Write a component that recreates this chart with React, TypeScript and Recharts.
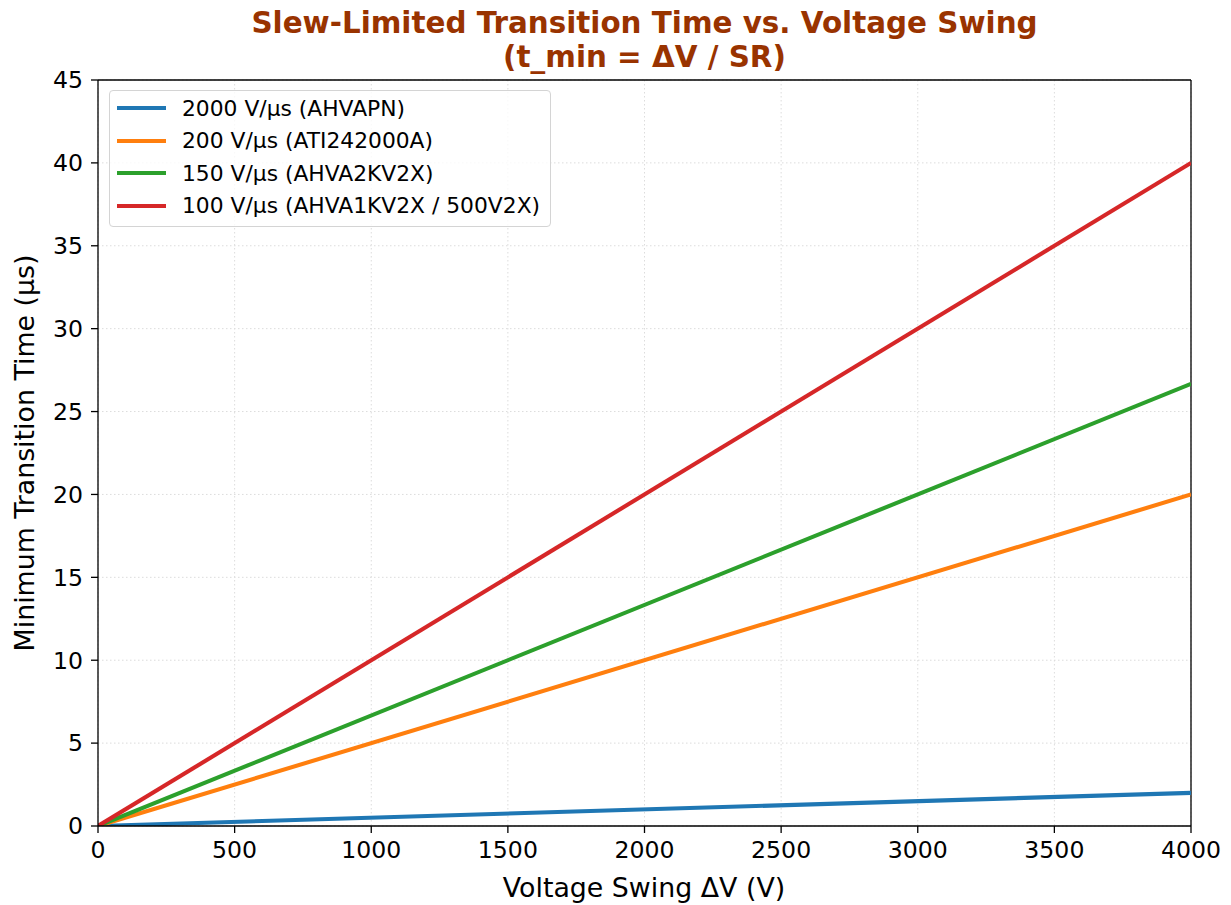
import React from "react";
import {
  LineChart,
  Line,
  XAxis,
  YAxis,
  CartesianGrid,
  ReferenceLine,
  Label,
} from "recharts";

// voltage swing (V) at each end of the lines
const voltage = [0, 4000];

// minimum transition time (µs)
const t2000 = [0, 2.0];
const t200 = [0, 20.0];
const t150 = [0, 26.67];
const t100 = [0, 40.0];

const xTicks = [0, 500, 1000, 1500, 2000, 2500, 3000, 3500, 4000];
const yTicks = [0, 5, 10, 15, 20, 25, 30, 35, 40, 45];

const series = [
  { key: "sr2000", name: "2000 V/µs (AHVAPN)", color: "#1f77b4", values: t2000 },
  { key: "sr200", name: "200 V/µs (ATI242000A)", color: "#ff7f0e", values: t200 },
  { key: "sr150", name: "150 V/µs (AHVA2KV2X)", color: "#2ca02c", values: t150 },
  { key: "sr100", name: "100 V/µs (AHVA1KV2X / 500V2X)", color: "#d62728", values: t100 },
];

const data = voltage.map((v, i) => {
  const row: Record<string, number> = { v };
  series.forEach((s) => {
    row[s.key] = s.values[i];
  });
  return row;
});

const FONT = "'DejaVu Sans', sans-serif";

function LegendBox() {
  return (
    <div
      style={{
        position: "absolute",
        left: 109,
        top: 90,
        width: 442,
        height: 137,
        boxSizing: "border-box",
        border: "1px solid #d4d4d4",
        borderRadius: 4,
        background: "rgba(255,255,255,0.8)",
        padding: "1px 0 0 7px",
        fontFamily: FONT,
        fontSize: 21.8,
        color: "#000",
      }}
    >
      {series.map((s) => (
        <div key={s.key} style={{ display: "flex", alignItems: "center", height: 32.5 }}>
          <div style={{ width: 49, height: 4, background: s.color, marginRight: 16 }} />
          <span style={{ whiteSpace: "nowrap" }}>{s.name}</span>
        </div>
      ))}
    </div>
  );
}

export default function App() {
  return (
    <div
      style={{
        position: "absolute",
        left: 0,
        top: 0,
        width: 1231,
        height: 905,
        background: "#fff",
        fontFamily: FONT,
      }}
    >
      <div
        style={{
          position: "absolute",
          left: 0,
          top: 6,
          width: 1289,
          textAlign: "center",
          fontWeight: "bold",
          fontSize: 29.4,
          lineHeight: "34px",
          color: "#993300",
        }}
      >
        Slew-Limited Transition Time vs. Voltage Swing
        <br />
        (t_min = ΔV / SR)
      </div>
      <LineChart
        width={1231}
        height={905}
        data={data}
        margin={{ top: 80, right: 40, bottom: 0, left: 0 }}
        style={{ fontFamily: FONT }}
      >
        <CartesianGrid
          stroke="#dcdcdc"
          strokeDasharray="1.5 2.5"
          strokeWidth={1}
        />
        <XAxis
          dataKey="v"
          type="number"
          domain={[0, 4000]}
          ticks={xTicks}
          height={79}
          tickSize={7}
          tickMargin={8}
          stroke="#000"
          strokeWidth={1.3}
          tick={{ fontSize: 23.6, fill: "#000" }}
          allowDataOverflow
        >
          <Label
            content={() => (
              <text x={644} y={897} textAnchor="middle" fontSize={26.8} fill="#000">
                Voltage Swing ΔV (V)
              </text>
            )}
          />
        </XAxis>
        <YAxis
          type="number"
          domain={[0, 45]}
          ticks={yTicks}
          width={98}
          tickSize={7}
          tickMargin={8}
          stroke="#000"
          strokeWidth={1.3}
          tick={{ fontSize: 23.6, fill: "#000" }}
          allowDataOverflow
        >
          <Label
            content={() => (
              <text
                x={34}
                y={453}
                textAnchor="middle"
                fontSize={26.8}
                fill="#000"
                transform="rotate(-90 34 453)"
              >
                Minimum Transition Time (µs)
              </text>
            )}
          />
        </YAxis>
        <ReferenceLine y={45} stroke="#000" strokeWidth={1.3} />
        <ReferenceLine x={4000} stroke="#000" strokeWidth={1.3} />
        {series.map((s) => (
          <Line
            key={s.key}
            type="linear"
            dataKey={s.key}
            name={s.name}
            stroke={s.color}
            strokeWidth={4.1}
            dot={false}
            activeDot={false}
            isAnimationActive={false}
          />
        ))}
      </LineChart>
      <LegendBox />
    </div>
  );
}
